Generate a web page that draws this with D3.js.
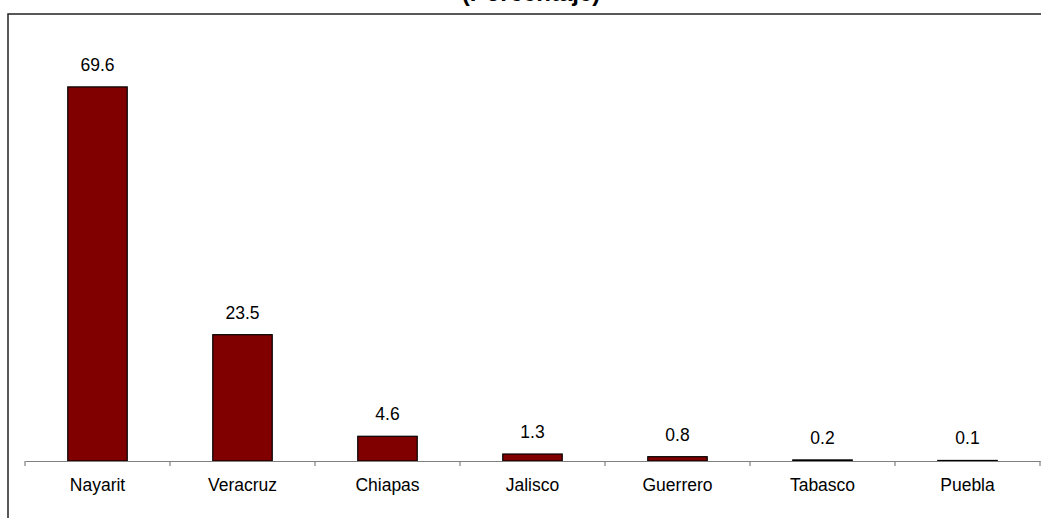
<!DOCTYPE html>
<html><head><meta charset="utf-8">
<script src="https://cdn.jsdelivr.net/npm/d3@7"></script>
<style>body{margin:0;background:#fff}svg{display:block;font-family:"Liberation Sans",Arial,sans-serif}</style>
</head><body>
<svg id="c" width="1041" height="518"></svg>
<script>
const categories = ["Nayarit","Veracruz","Chiapas","Jalisco","Guerrero","Tabasco","Puebla"];
const values = [69.6, 23.5, 4.6, 1.3, 0.8, 0.2, 0.1];
const valueLabels = ["69.6","23.5","4.6","1.3","0.8","0.2","0.1"];
const titleText = "(Porcentaje)";

const svg = d3.select("#c");
const left = 25, right = 1040, baseY = 461, topY = 31;

// frame
svg.append("rect").attr("x",8).attr("y",14).attr("width",1100).attr("height",600)
  .attr("fill","none").attr("stroke","#222").attr("stroke-width",1.5);

// title (mostly clipped at top, as in the reference)
svg.append("text").attr("x",531).attr("y",0.5).attr("text-anchor","middle")
  .attr("font-size",24).attr("font-weight","bold").text(titleText);

const x = d3.scaleBand().domain(categories).range([left,right]).paddingInner(0.59).paddingOuter(0.295);
const y = d3.scaleLinear().domain([0,80]).range([baseY,topY]);
const step = x.step();
const outer = x.paddingOuter()*step;

// bars
svg.selectAll("rect.bar").data(values).join("rect").attr("class","bar")
  .attr("x",(d,i)=>x(categories[i])).attr("width",x.bandwidth())
  .attr("y",d=>y(d)).attr("height",d=>baseY-y(d))
  .attr("fill","#800000").attr("stroke","#000").attr("stroke-width",1.2);

// value labels
svg.selectAll("text.val").data(values).join("text").attr("class","val")
  .attr("x",(d,i)=>x(categories[i])+x.bandwidth()/2).attr("y",d=>y(d)-16)
  .attr("text-anchor","middle").attr("font-size",17.5).attr("fill","#000")
  .text((d,i)=>valueLabels[i]);

// axis
const ax = svg.append("g").attr("transform",`translate(0,${baseY})`)
  .call(d3.axisBottom(x).tickSize(0).tickPadding(18));
ax.select(".domain").attr("stroke","#808080").attr("stroke-width",1.2);
ax.selectAll(".tick text").attr("font-size",17.5).attr("fill","#000")
  .attr("font-family","Liberation Sans, Arial, sans-serif");

// boundary ticks
const bounds = d3.range(categories.length+1).map(i=> i<categories.length ? x(categories[i]) - outer : x(categories[categories.length-1]) - outer + step);
svg.selectAll("line.bt").data(bounds).join("line").attr("class","bt")
  .attr("x1",d=>d).attr("x2",d=>d).attr("y1",baseY).attr("y2",baseY+5)
  .attr("stroke","#808080").attr("stroke-width",1.2);
</script>
</body></html>
